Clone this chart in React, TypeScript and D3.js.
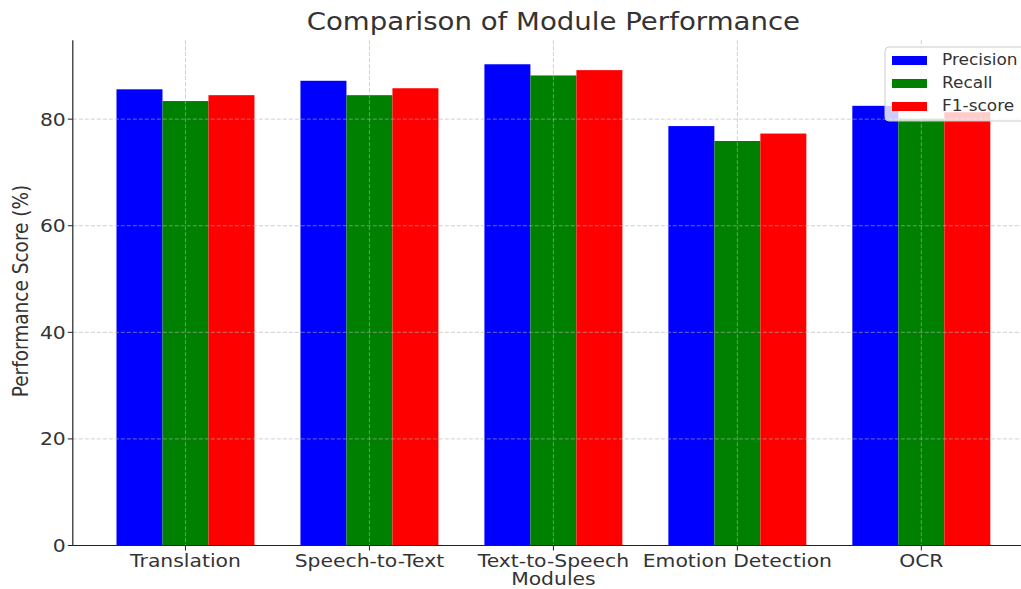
import React from "react";
import * as d3 from "d3";

const modules = ["Translation", "Speech-to-Text", "Text-to-Speech", "Emotion Detection", "OCR"];
const precision = [85.6, 87.2, 90.3, 78.7, 82.5];
const recall = [83.4, 84.5, 88.2, 75.9, 80.1];
const f1 = [84.5, 85.8, 89.2, 77.3, 81.3];
const seriesNames = ["Precision", "Recall", "F1-score"];
const seriesColors = ["#0000ff", "#008000", "#ff0000"];
const yTicks = [0, 20, 40, 60, 80];

const W = 1021;
const H = 589;
const FONT = "'DejaVu Sans', sans-serif";
const SX = 1.13;
const TXT = "#333";

export default function App() {
  const series = [precision, recall, f1];
  const left = 72.8;
  const right = 1034;
  const top = 40.2;
  const bottom = 545.5;
  const barW = 0.25;
  const x = d3.scaleLinear().domain([-0.6125, 4.6125]).range([left, right]);
  const ymax = d3.max(series.flat())! * 1.05;
  const y = d3.scaleLinear().domain([0, ymax]).range([bottom, top]);
  const offsets = [-0.25, 0, 0.25];
  const grid = "rgba(176,176,176,0.6)";

  return (
    <svg width={W} height={H} style={{ position: "absolute", left: 0, top: 0, background: "#fff" }}>
      <rect x={0} y={0} width={W} height={H} fill="#fff" />
      {series.map((vals, si) =>
        vals.map((v, i) => (
          <rect
            key={`${si}-${i}`}
            x={x(i + offsets[si] - barW / 2)}
            y={y(v)}
            width={x(barW) - x(0)}
            height={y(0) - y(v)}
            fill={seriesColors[si]}
          />
        ))
      )}
      {/* grid */}
      {yTicks.map((t) => (
        <line key={`gy${t}`} x1={left} x2={right} y1={y(t)} y2={y(t)} stroke={grid} strokeWidth={1} strokeDasharray="4,2" />
      ))}
      {modules.map((m, i) => (
        <line key={`gx${i}`} x1={x(i)} x2={x(i)} y1={top} y2={bottom} stroke={grid} strokeWidth={1} strokeDasharray="4,2" />
      ))}
      {/* spines */}
      <line x1={left} x2={left} y1={top} y2={bottom} stroke="#222" strokeWidth={1.2} />
      <line x1={left} x2={right} y1={bottom} y2={bottom} stroke="#222" strokeWidth={1.2} />
      {/* y ticks */}
      {yTicks.map((t) => (
        <g key={`yt${t}`}>
          <line x1={left - 5} x2={left} y1={y(t)} y2={y(t)} stroke="#222" />
          <text
            transform={`translate(${left - 7},${y(t)}) scale(${SX},1)`}
            dy="0.36em"
            textAnchor="end"
            fontFamily={FONT}
            fontSize={18}
            fill={TXT}
          >
            {t}
          </text>
        </g>
      ))}
      {/* x ticks */}
      {modules.map((m, i) => (
        <g key={`xt${i}`}>
          <line x1={x(i)} x2={x(i)} y1={bottom} y2={bottom + 5} stroke="#222" />
          <text
            transform={`translate(${x(i)},${bottom + 21}) scale(${SX},1)`}
            textAnchor="middle"
            fontFamily={FONT}
            fontSize={18}
            fill={TXT}
          >
            {m}
          </text>
        </g>
      ))}
      <text
        transform={`translate(${(left + right) / 2},${585}) scale(${SX},1)`}
        textAnchor="middle"
        fontFamily={FONT}
        fontSize={18}
        fill={TXT}
      >
        Modules
      </text>
      <text
        transform={`translate(28,291) scale(${SX},1) rotate(-90)`}
        textAnchor="middle"
        fontFamily={FONT}
        fontSize={18.5}
        fill={TXT}
      >
        Performance Score (%)
      </text>
      <text
        transform={`translate(${(left + right) / 2},30) scale(1.15,1)`}
        textAnchor="middle"
        fontFamily={FONT}
        fontSize={24}
        fill={TXT}
      >
        Comparison of Module Performance
      </text>
      {/* legend */}
      <g>
        <rect x={885} y={47} width={150} height={74} rx={4} fill="rgba(255,255,255,0.8)" stroke="#ccc" />
        {seriesNames.map((n, i) => (
          <g key={n}>
            <rect x={892} y={56 + i * 23} width={35} height={9} fill={seriesColors[i]} />
            <text
              transform={`translate(942,${60 + i * 23}) scale(${SX},1)`}
              dy="0.36em"
              fontFamily={FONT}
              fontSize={15}
              fill={TXT}
            >
              {n}
            </text>
          </g>
        ))}
      </g>
    </svg>
  );
}
